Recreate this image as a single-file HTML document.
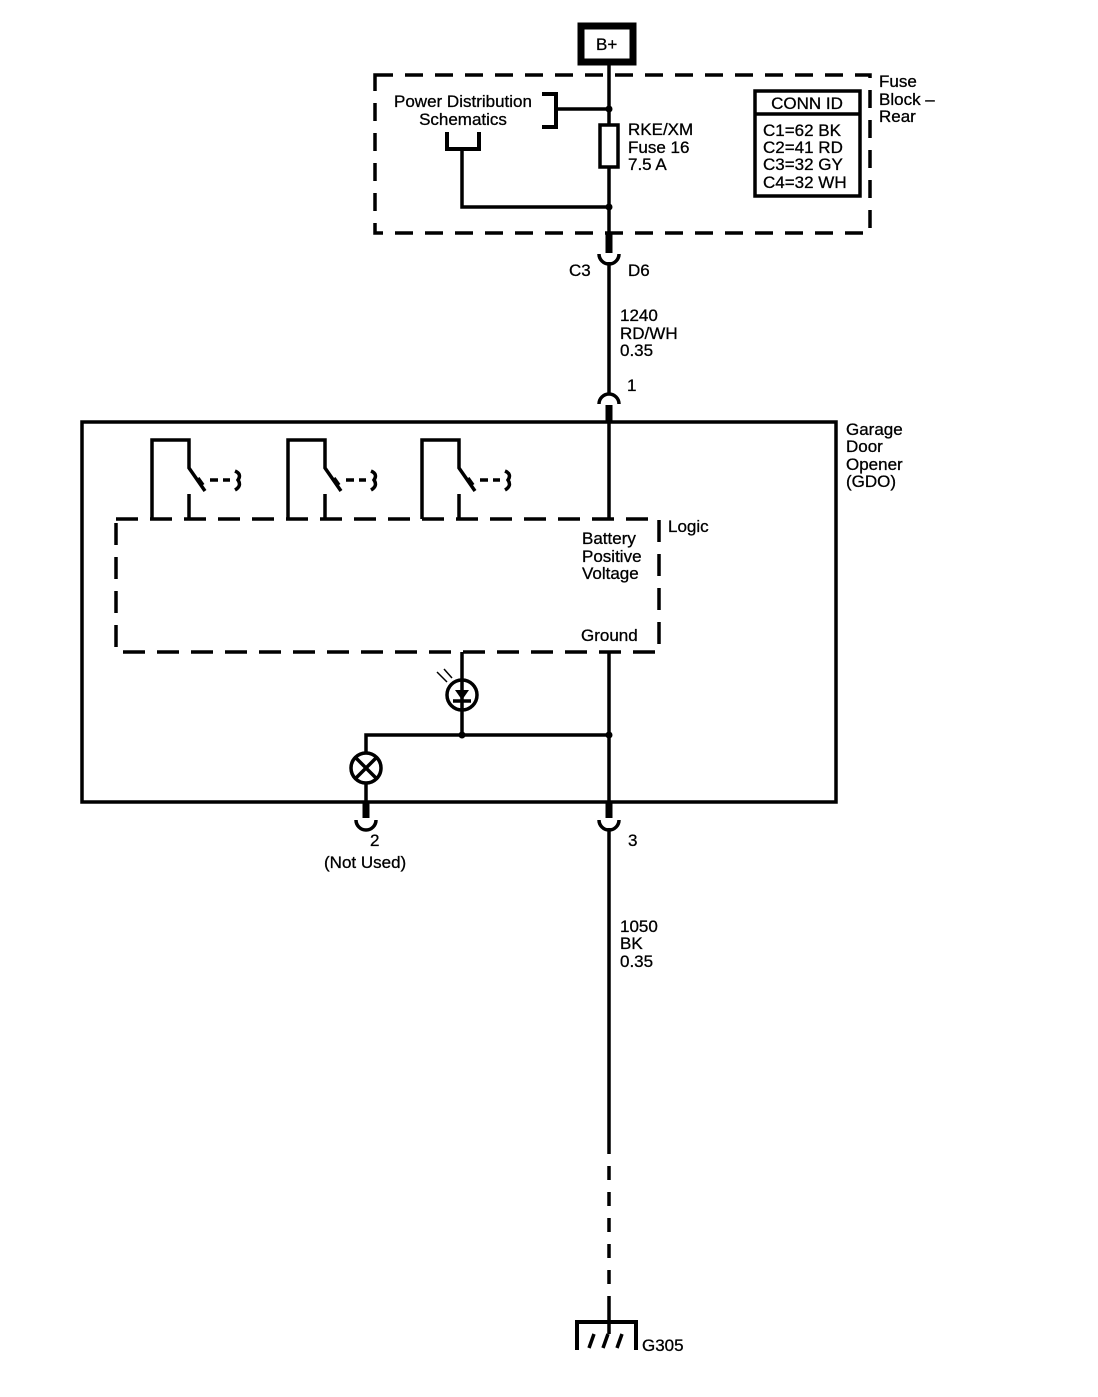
<!DOCTYPE html>
<html><head><meta charset="utf-8"><style>
html,body{margin:0;padding:0;background:#fff;}
svg text{font-family:"Liberation Sans",Arial,sans-serif;font-size:17px;fill:#000;stroke:#000;stroke-width:0.3;}
</style></head><body>
<svg width="1098" height="1392" viewBox="0 0 1098 1392" xmlns="http://www.w3.org/2000/svg">
<g fill="none" stroke="#000" stroke-width="3.5">
<!-- B+ -->
<rect x="581" y="26" width="52" height="36" stroke-width="7"/>
<line x1="609" y1="62" x2="609" y2="233"/>
<!-- fuse block -->
<rect x="375" y="75" width="495" height="158" stroke-dasharray="18,12"/>
<rect x="600" y="125" width="18" height="42" fill="#fff"/>
<polyline points="542,94 556,94 556,127 542,127" stroke-width="4"/>
<line x1="556" y1="109" x2="609" y2="109"/>
<polyline points="447,132 447,149 479,149 479,132" stroke-width="4"/>
<polyline points="462,149 462,207 609,207"/>
<rect x="755" y="91" width="105" height="105"/>
<line x1="755" y1="114" x2="860" y2="114"/>
<!-- connector C3 -->
<line x1="609" y1="233" x2="609" y2="253" stroke-width="7"/>
<path d="M599,254 A10,10 0 0 0 619,254"/>
<line x1="609" y1="262" x2="609" y2="393"/>
<!-- connector 1 -->
<path d="M599,404 A10,10 0 0 1 619,404"/>
<line x1="609" y1="405" x2="609" y2="422" stroke-width="7"/>
<!-- GDO box -->
<rect x="82" y="422" width="754" height="380"/>
<line x1="609" y1="422" x2="609" y2="519"/>
<rect x="116" y="519" width="543" height="133" stroke-dasharray="22,12"/>
<!-- switches -->
<g id="sw">
<polyline points="152,519 152,440 189,440 189,468 205,491"/>
<line x1="189" y1="494" x2="189" y2="519"/>
<line x1="198" y1="478" x2="203" y2="485"/>
<line x1="210" y1="480" x2="230" y2="480" stroke-dasharray="8,5"/>
<path d="M235,471 Q242,474 238,480 Q242,486 235,490"/>
</g>
<use href="#sw" x="136"/>
<use href="#sw" x="270"/>
<!-- ground section -->
<line x1="609" y1="652" x2="609" y2="802"/>
<line x1="462" y1="652" x2="462" y2="735"/>
<circle cx="462" cy="695" r="15" fill="#fff"/>
<line x1="462" y1="680" x2="462" y2="710"/>
<line x1="453" y1="701" x2="471" y2="701"/>
<line x1="444" y1="669" x2="452" y2="678" stroke-width="1.5"/>
<line x1="437" y1="672" x2="447" y2="682" stroke-width="1.5"/>
<polyline points="366,768 366,735 609,735"/>
<circle cx="366" cy="768" r="15" fill="#fff"/>
<line x1="356" y1="758" x2="376" y2="778"/>
<line x1="376" y1="758" x2="356" y2="778"/>
<line x1="366" y1="783" x2="366" y2="802"/>
<line x1="366" y1="802" x2="366" y2="818" stroke-width="7"/>
<path d="M356,820 A10,10 0 0 0 376,820"/>
<line x1="609" y1="802" x2="609" y2="818" stroke-width="7"/>
<path d="M599,820 A10,10 0 0 0 619,820"/>
<line x1="609" y1="828" x2="609" y2="1140"/>
<line x1="609" y1="1140" x2="609" y2="1322" stroke-dasharray="14,12"/>
<polyline points="577,1350 577,1322 636,1322 636,1350" stroke-width="4"/>
<line x1="609" y1="1310" x2="609" y2="1334"/>
<line x1="589" y1="1348" x2="594" y2="1334"/>
<line x1="603" y1="1348" x2="608" y2="1334"/>
<line x1="617" y1="1348" x2="622" y2="1334"/>
</g>
<g fill="#000">
<circle cx="609" cy="109" r="3.5"/>
<circle cx="609" cy="207" r="3.5"/>
<circle cx="462" cy="735" r="3.5"/>
<circle cx="609" cy="735" r="3.5"/>
<path d="M455,690 L469,690 L462,700 Z"/>
</g>
<text x="596" y="50">B+</text>
<text x="463" y="107" text-anchor="middle">Power Distribution</text>
<text x="463" y="125" text-anchor="middle">Schematics</text>
<text x="628" y="135">RKE/XM</text>
<text x="628" y="153">Fuse 16</text>
<text x="628" y="170">7.5 A</text>
<text x="807" y="109" text-anchor="middle">CONN ID</text>
<text x="763" y="136">C1=62 BK</text>
<text x="763" y="153">C2=41 RD</text>
<text x="763" y="170">C3=32 GY</text>
<text x="763" y="188">C4=32 WH</text>
<text x="879" y="87">Fuse</text>
<text x="879" y="105">Block –</text>
<text x="879" y="122">Rear</text>
<text x="569" y="276">C3</text>
<text x="628" y="276">D6</text>
<text x="620" y="321">1240</text>
<text x="620" y="339">RD/WH</text>
<text x="620" y="356">0.35</text>
<text x="627" y="391">1</text>
<text x="846" y="435">Garage</text>
<text x="846" y="452">Door</text>
<text x="846" y="470">Opener</text>
<text x="846" y="487">(GDO)</text>
<text x="668" y="532">Logic</text>
<text x="582" y="544">Battery</text>
<text x="582" y="562">Positive</text>
<text x="582" y="579">Voltage</text>
<text x="581" y="641">Ground</text>
<text x="370" y="846">2</text>
<text x="324" y="868">(Not Used)</text>
<text x="628" y="846">3</text>
<text x="620" y="932">1050</text>
<text x="620" y="949">BK</text>
<text x="620" y="967">0.35</text>
<text x="642" y="1351">G305</text>
</svg>
</body></html>
